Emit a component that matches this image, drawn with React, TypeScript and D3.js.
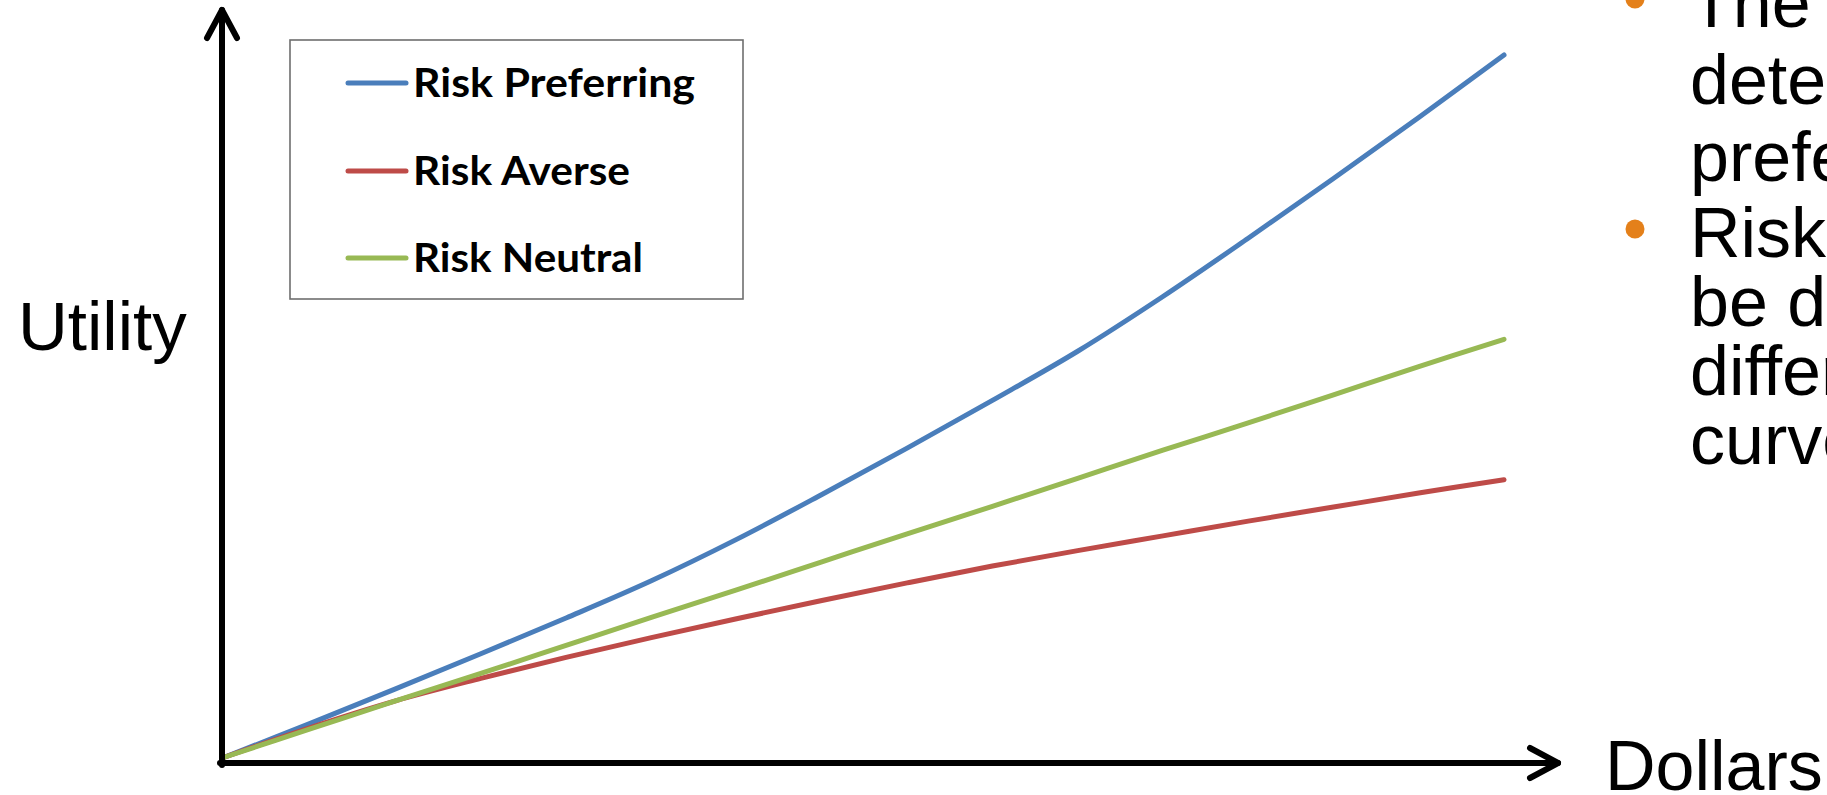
import React from "react";
import * as d3 from "d3";

// Dollar amounts along the horizontal axis
const dollars = [0, 1, 2, 3, 4, 5, 6, 7, 8, 9, 10, 11, 12, 13, 14, 15];

// Utility for each attitude toward risk
const riskPreferring = [0, 4.8, 9.7, 14.7, 19.8, 25.1, 31.0, 37.4, 44.0, 50.8, 57.8, 65.6, 73.9, 82.4, 91.1, 100];
const riskAverse = [0, 4.2, 8.0, 11.2, 14.2, 17.0, 19.7, 22.3, 24.8, 27.2, 29.4, 31.5, 33.6, 35.6, 37.6, 39.5];
const riskNeutral = [0, 4.0, 8.0, 11.9, 15.9, 19.9, 23.8, 27.8, 31.8, 35.7, 39.7, 43.7, 47.6, 51.6, 55.6, 59.5];

const seriesNames = ["Risk Preferring", "Risk Averse", "Risk Neutral"];
const seriesValues = [riskPreferring, riskAverse, riskNeutral];
const seriesColors = ["#4A7EBB", "#BE4B48", "#98B954"];

// Slide bullet text beside the chart
const bulletParagraphs = [
  ["The shape", "determines", "preferences"],
  ["Risk attitudes can", "be described by", "different utility", "curves"],
];

const W = 1827;
const H = 795;

export default function App() {
  const x = d3.scaleLinear().domain([0, 15]).range([225, 1504]);
  const y = d3.scaleLinear().domain([0, 100]).range([757, 55]);

  const line = d3
    .line<number>()
    .x((_, i) => x(dollars[i]))
    .y((d) => y(d))
    .curve(d3.curveCatmullRom.alpha(0.5));

  const axisX = x(0) - 3; // vertical axis position
  const axisY = y(0) + 6; // horizontal axis position
  const arrow = 15;
  const arrowLen = 28;
  const arrowTipX = 1558;
  const arrowTipY = 10;

  const legendX = 290;
  const legendY = 40;
  const legendW = 453;
  const legendH = 259;
  const legendRowY = [83, 171, 258];
  const legendTextLen = [282, 217, 230];

  // bullet text layout
  const textX = 1690;
  const paraStarts = [27, 257];
  const lineGaps = [77, 69];
  const textLines: { text: string; y: number; bullet: boolean }[] = [];
  bulletParagraphs.forEach((para, pi) => {
    para.forEach((t, li) => {
      textLines.push({ text: t, y: paraStarts[pi] + li * lineGaps[pi], bullet: li === 0 });
    });
  });

  return (
    <svg
      width={W}
      height={H}
      viewBox={`0 0 ${W} ${H}`}
      style={{ position: "absolute", left: 0, top: 0, background: "#fff" }}
    >
      <rect x={0} y={0} width={W} height={H} fill="#fff" />

      {/* curves */}
      {seriesValues.map((vals, i) => (
        <path
          key={seriesNames[i]}
          d={line(vals) || ""}
          fill="none"
          stroke={seriesColors[i]}
          strokeWidth={5}
          strokeLinecap="round"
          strokeLinejoin="round"
        />
      ))}

      {/* axes with open arrowheads */}
      <g stroke="#000" strokeWidth={6} fill="none" strokeLinecap="round" strokeLinejoin="round">
        <line x1={axisX} y1={axisY + 2} x2={axisX} y2={arrowTipY} />
        <polyline
          points={`${axisX - arrow},${arrowTipY + arrowLen} ${axisX},${arrowTipY} ${axisX + arrow},${arrowTipY + arrowLen}`}
        />
        <line x1={axisX - 2} y1={axisY} x2={arrowTipX} y2={axisY} />
        <polyline
          points={`${arrowTipX - arrowLen},${axisY - arrow} ${arrowTipX},${axisY} ${arrowTipX - arrowLen},${axisY + arrow}`}
        />
      </g>

      {/* axis titles */}
      <text x={18} y={350} fontFamily="'Liberation Sans', Arial, sans-serif" fontSize={69} fill="#000">
        Utility
      </text>
      <text x={1605} y={790} fontFamily="'Liberation Sans', Arial, sans-serif" fontSize={70} fill="#000">
        Dollars
      </text>

      {/* legend */}
      <rect x={legendX} y={legendY} width={legendW} height={legendH} fill="#fff" stroke="#6e6e6e" strokeWidth={1.6} />
      {seriesNames.map((name, i) => (
        <g key={name}>
          <line
            x1={348}
            x2={406}
            y1={legendRowY[i]}
            y2={legendRowY[i]}
            stroke={seriesColors[i]}
            strokeWidth={5}
            strokeLinecap="round"
          />
          <text
            x={413}
            y={legendRowY[i] + 14}
            fontFamily="Lato, 'Open Sans', sans-serif"
            fontWeight={700}
            fontSize={41}
            fill="#000"
            textLength={legendTextLen[i]}
            lengthAdjust="spacingAndGlyphs"
          >
            {name}
          </text>
        </g>
      ))}

      {/* bullet text */}
      {textLines.map((l, i) => (
        <g key={i}>
          {l.bullet && <circle cx={1635} cy={l.y - 28} r={9.5} fill="#E4801A" />}
          <text x={textX} y={l.y} fontFamily="'Liberation Sans', Arial, sans-serif" fontSize={70} fill="#000">
            {l.text}
          </text>
        </g>
      ))}
    </svg>
  );
}
